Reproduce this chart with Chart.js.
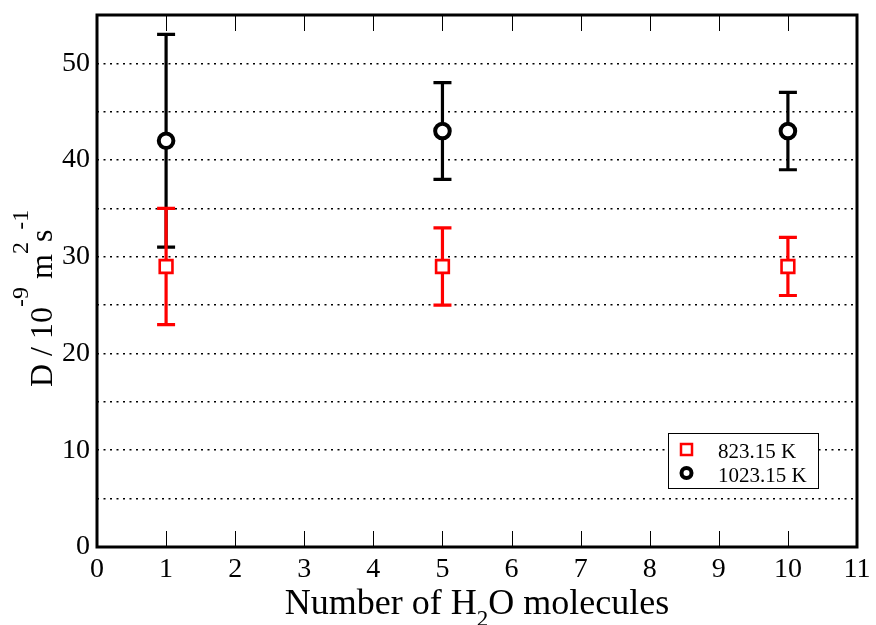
<!DOCTYPE html>
<html>
<head>
<meta charset="utf-8">
<script src="https://cdn.jsdelivr.net/npm/chart.js@4.4.0/dist/chart.umd.min.js"></script>
<style>
  html, body { margin: 0; padding: 0; background: #fff; }
  #wrap { width: 876px; height: 625px; }
</style>
</head>
<body>
<div id="wrap"><canvas id="mycanvas" width="876" height="625"></canvas></div>
<script>
// number of water molecules on the x axis
var nMolecules = [1, 5, 10];

// 823.15 K
var d823 = [29, 29, 29];
var d823Low = [23, 25, 26];
var d823High = [35, 33, 32];

// 1023.15 K
var d1023 = [42, 43, 43];
var d1023Low = [31, 38, 39];
var d1023High = [53, 48, 47];

var seriesLabels = ['823.15 K', '1023.15 K'];
var yTickLabels = [0, 10, 20, 30, 40, 50];

var SERIF = '"Liberation Serif", "Times New Roman", serif';

function points(ys) {
    var out = [];
    for (var i in nMolecules) {
        out.push({x: nMolecules[i], y: ys[i]});
    }
    return out;
}

// error bars drawn under the markers, black first so red sits on top
var errorBars = {
    id: 'errorBars',
    beforeDatasetsDraw: function(chart) {
        var ctx = chart.ctx;
        var xs = chart.scales.x, ys = chart.scales.y;
        var sets = [
            {low: d1023Low, high: d1023High, color: '#000'},
            {low: d823Low, high: d823High, color: '#ff0000'}
        ];
        ctx.save();
        sets.forEach(function(s) {
            ctx.strokeStyle = s.color;
            ctx.lineWidth = 3.2;
            for (var i = 0; i < nMolecules.length; i++) {
                var px = xs.getPixelForValue(nMolecules[i]);
                var y1 = ys.getPixelForValue(s.low[i]);
                var y2 = ys.getPixelForValue(s.high[i]);
                ctx.beginPath();
                ctx.moveTo(px, y1); ctx.lineTo(px, y2);
                ctx.moveTo(px - 9, y1); ctx.lineTo(px + 9, y1);
                ctx.moveTo(px - 9, y2); ctx.lineTo(px + 9, y2);
                ctx.stroke();
            }
        });
        ctx.restore();
    }
};

function drawRuns(ctx, runs, x, y) {
    // runs: [text, fontSize, shift]; draws left to right along current axis
    var cx = x;
    runs.forEach(function(r) {
        ctx.font = r[1] + 'px ' + SERIF;
        ctx.fillText(r[0], cx, y + r[2]);
        cx += ctx.measureText(r[0]).width;
    });
}
function runsWidth(ctx, runs) {
    var w = 0;
    runs.forEach(function(r) {
        ctx.font = r[1] + 'px ' + SERIF;
        w += ctx.measureText(r[0]).width;
    });
    return w;
}

var decorations = {
    id: 'decorations',
    afterDraw: function(chart) {
        var ctx = chart.ctx;
        var a = chart.chartArea;
        var xs = chart.scales.x;
        ctx.save();

        // inward ticks on top and bottom
        ctx.strokeStyle = '#000';
        ctx.lineWidth = 1;
        ctx.beginPath();
        for (var v = 1; v <= 10; v++) {
            var px = Math.round(xs.getPixelForValue(v)) + 0.5;
            ctx.moveTo(px, a.bottom); ctx.lineTo(px, a.bottom - 16);
            ctx.moveTo(px, a.top); ctx.lineTo(px, a.top + 16);
        }
        ctx.stroke();

        // frame
        ctx.lineWidth = 3;
        ctx.strokeRect(a.left, a.top, a.right - a.left, a.bottom - a.top);

        // x title
        ctx.fillStyle = '#000';
        ctx.textBaseline = 'alphabetic';
        ctx.textAlign = 'left';
        var xRuns = [['Number of H', 36, 0], ['2', 23, 12], ['O molecules', 36, 0]];
        var w = runsWidth(ctx, xRuns);
        drawRuns(ctx, xRuns, 477 - w / 2, 614);

        // y title, rotated
        ctx.save();
        ctx.translate(52, 387);
        ctx.rotate(-Math.PI / 2);
        var yRuns = [['D / 10', 32, 0], ['-9', 24, -24], [' m', 32, 0], ['2', 24, -24],
                     ['s', 32, 0], ['-1', 24, -24]];
        drawRuns(ctx, yRuns, 0, 0);
        ctx.restore();

        // legend box
        ctx.lineWidth = 1;
        ctx.strokeStyle = '#000';
        ctx.fillStyle = '#fff';
        ctx.fillRect(668.5, 433.5, 150, 55);
        ctx.strokeRect(668.5, 433.5, 150, 55);
        ctx.lineWidth = 2.5;
        ctx.strokeStyle = '#ff0000';
        ctx.strokeRect(681, 444, 11, 11);
        ctx.lineWidth = 4;
        ctx.strokeStyle = '#000';
        ctx.beginPath();
        ctx.arc(686.5, 473, 5, 0, Math.PI * 2);
        ctx.stroke();
        ctx.fillStyle = '#000';
        ctx.font = '21px ' + SERIF;
        ctx.fillText(seriesLabels[0], 718, 458);
        ctx.fillText(seriesLabels[1], 718, 482);

        ctx.restore();
    }
};

var chartdata = {
    datasets: [
        {
            label: seriesLabels[0],
            data: points(d823),
            pointStyle: 'rect',
            pointRadius: 9,
            pointBorderWidth: 2.6,
            borderColor: '#ff0000',
            backgroundColor: '#ffffff',
            showLine: false
        },
        {
            label: seriesLabels[1],
            data: points(d1023),
            pointStyle: 'circle',
            pointRadius: 7.3,
            pointBorderWidth: 4,
            borderColor: '#000000',
            backgroundColor: '#ffffff',
            showLine: false
        }
    ]
};

var ctx = document.getElementById('mycanvas');
var graph = new Chart(ctx, {
    type: 'scatter',
    data: chartdata,
    plugins: [errorBars, decorations],
    options: {
        responsive: false,
        animation: false,
        events: [],
        layout: { padding: { top: 15, right: 19, left: 0, bottom: 0 } },
        plugins: { legend: { display: false }, tooltip: { enabled: false } },
        scales: {
            x: {
                type: 'linear',
                min: 0, max: 11,
                afterFit: function(s) { s.height = 78; s.paddingLeft = 0; s.paddingRight = 0; },
                grid: { display: false, drawTicks: false },
                border: { display: false },
                ticks: {
                    stepSize: 1,
                    padding: 6,
                    color: '#000',
                    font: { family: SERIF, size: 28 }
                }
            },
            y: {
                type: 'linear',
                min: 0, max: 55,
                afterFit: function(s) { s.width = 97; s.paddingTop = 0; s.paddingBottom = 0; },
                grid: {
                    drawTicks: false,
                    lineWidth: 1.6,
                    color: function(c) {
                        var v = c.tick ? c.tick.value : 0;
                        return (v === 0 || v === 55) ? 'rgba(0,0,0,0)' : '#000';
                    }
                },
                border: { display: false, dash: [2, 4.5] },
                ticks: {
                    stepSize: 5,
                    padding: 7,
                    color: '#000',
                    font: { family: SERIF, size: 28 },
                    callback: function(v) {
                        return yTickLabels.indexOf(v) >= 0 ? String(v) : '';
                    }
                }
            }
        }
    }
});
</script>
</body>
</html>
